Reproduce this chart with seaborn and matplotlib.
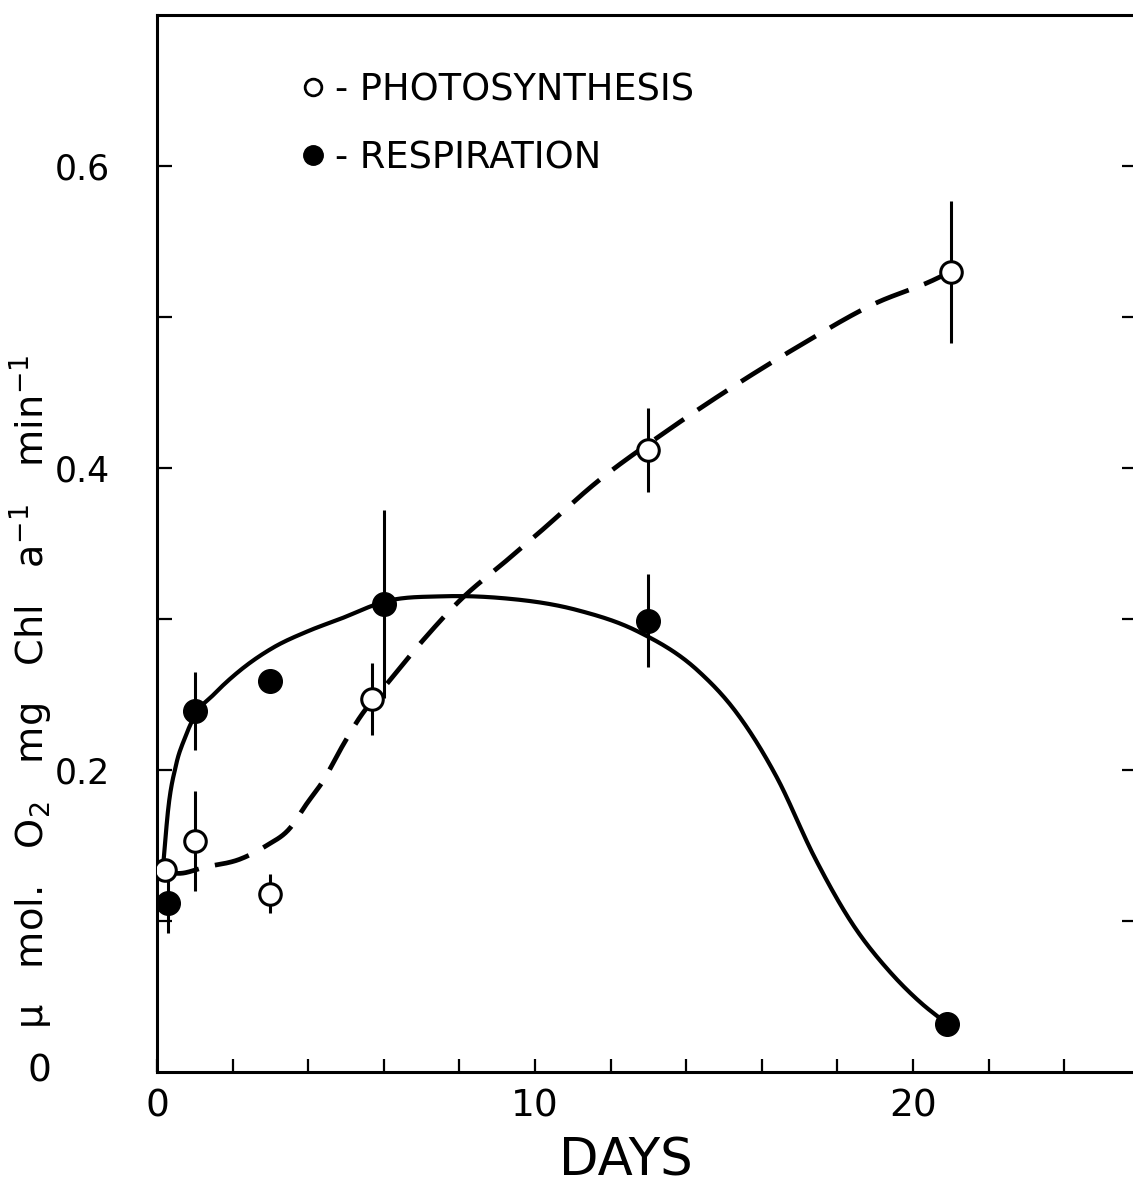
import numpy as np
import matplotlib
matplotlib.use("Agg")
import matplotlib.pyplot as plt
from matplotlib.lines import Line2D
import seaborn as sns

# Measured points (mean and half-range of vertical bars)
photo_day = [0.2, 1.0, 3.0, 5.7, 13.0, 21.0]
photo_val = [0.134, 0.153, 0.118, 0.247, 0.412, 0.530]
photo_err = [0.0, 0.033, 0.013, 0.024, 0.028, 0.047]

resp_day = [0.3, 1.0, 3.0, 6.0, 13.0, 20.9]
resp_val = [0.112, 0.239, 0.259, 0.310, 0.299, 0.032]
resp_err = [0.020, 0.026, 0.0, 0.062, 0.031, 0.005]

# Hand-fitted trend curves (knots)
photo_curve_day = [0.2, 0.42, 1.32, 2.2, 2.9, 3.5, 3.97, 4.4, 4.84, 5.37, 6.08,
                   7.04, 8.0, 9.26, 10.1, 11.7, 13.4, 15.0, 17.0, 19.0, 20.5, 21.0]
photo_curve_val = [0.134, 0.132, 0.136, 0.141, 0.150, 0.161, 0.178, 0.193, 0.213,
                   0.235, 0.257, 0.286, 0.312, 0.339, 0.357, 0.392, 0.423, 0.450,
                   0.481, 0.509, 0.524, 0.530]

resp_curve_day = [0.15, 0.3, 0.5, 0.75, 1.0, 1.5, 2.2, 3.07, 4.0, 4.84, 6.1,
                  7.5, 9.05, 11.1, 12.7, 14.3, 15.3, 16.4, 17.4, 18.4, 19.4,
                  20.2, 20.9]
resp_curve_val = [0.133, 0.175, 0.203, 0.222, 0.236, 0.250, 0.266, 0.281, 0.292,
                  0.300, 0.312, 0.315, 0.314, 0.306, 0.292, 0.266, 0.239, 0.195,
                  0.142, 0.098, 0.066, 0.046, 0.032]

x_ticks = [0, 2, 4, 6, 8, 10, 12, 14, 16, 18, 20, 22, 24]
x_tick_labels = ["0", "", "", "", "", "10", "", "", "", "", "20", "", ""]
y_ticks = [0.1, 0.2, 0.3, 0.4, 0.5, 0.6]
y_tick_labels = ["", "0.2", "", "0.4", "", "0.6"]

legend_labels = ["- PHOTOSYNTHESIS", "- RESPIRATION"]


def hermite_smooth(xk, yk, n=600):
    """Cubic Hermite curve through the knots with three-point tangents."""
    xk = np.asarray(xk, float)
    yk = np.asarray(yk, float)
    h = np.diff(xk)
    d = np.diff(yk) / h
    m = np.empty_like(yk)
    m[0], m[-1] = d[0], d[-1]
    m[1:-1] = (d[:-1] * h[1:] + d[1:] * h[:-1]) / (h[:-1] + h[1:])
    xs = np.linspace(xk[0], xk[-1], n)
    idx = np.clip(np.searchsorted(xk, xs) - 1, 0, len(h) - 1)
    t = (xs - xk[idx]) / h[idx]
    h00 = 2 * t**3 - 3 * t**2 + 1
    h10 = t**3 - 2 * t**2 + t
    h01 = -2 * t**3 + 3 * t**2
    h11 = t**3 - t**2
    ys = (h00 * yk[idx] + h10 * h[idx] * m[idx]
          + h01 * yk[idx + 1] + h11 * h[idx] * m[idx + 1])
    return xs, ys


sns.set_theme(style="ticks")
plt.rcParams["font.family"] = ["DejaVu Sans"]
plt.rcParams["mathtext.fontset"] = "dejavusans"
plt.rcParams["text.color"] = "black"

fig = plt.figure(figsize=(11.33, 11.9), dpi=100)
ax = fig.add_axes([157 / 1133, 1 - 1072 / 1190, 1 - 157 / 1133, (1072 - 15) / 1190])

px, py = hermite_smooth(photo_curve_day, photo_curve_val)
rx, ry = hermite_smooth(resp_curve_day, resp_curve_val)

sns.lineplot(x=px, y=py, ax=ax, color="black", lw=3.4, sort=False,
             estimator=None, zorder=2)
ax.lines[-1].set_dashes((7.5, 3.5))
sns.lineplot(x=rx, y=ry, ax=ax, color="black", lw=3.0, sort=False,
             estimator=None, zorder=2)

# vertical range bars
pd_, pv_, pe_ = map(np.asarray, (photo_day, photo_val, photo_err))
rd_, rv_, re_ = map(np.asarray, (resp_day, resp_val, resp_err))
mp = pe_ > 0
mr = re_ > 0
ax.vlines(pd_[mp], (pv_ - pe_)[mp], (pv_ + pe_)[mp], color="black", lw=2.2, zorder=1)
ax.vlines(rd_[mr], (rv_ - re_)[mr], (rv_ + re_)[mr], color="black", lw=2.2, zorder=1)

ax.plot(resp_day, resp_val, "o", ms=17, mfc="black", mec="black", zorder=4)
ax.plot(photo_day, photo_val, "o", ms=15.5, mfc="white", mec="black", mew=2.2, zorder=5)

ax.set_xlim(0, (1133 - 157) / 37.8)
ax.set_ylim(0, 0.7)

ax.set_xticks(x_ticks)
ax.set_xticklabels(x_tick_labels)
ax.set_yticks(y_ticks)
ax.set_yticklabels(y_tick_labels)

for s in ["left", "bottom", "top"]:
    ax.spines[s].set_linewidth(2.2)
    ax.spines[s].set_color("black")
ax.spines["right"].set_visible(False)

ax.tick_params(axis="x", direction="in", length=9.5, width=1.6, pad=12,
               labelsize=27, colors="black")
ax.tick_params(axis="y", direction="in", length=11, width=1.6, pad=34,
               labelsize=25, colors="black", right=True)
for t in ax.yaxis.get_major_ticks():
    t.tick2line.set_markersize(8)

ax.text(-0.12, 0.0, "0", transform=ax.transAxes, fontsize=27,
        ha="center", va="center", color="black")

ax.set_xlabel("DAYS", fontsize=37, color="black")
ax.xaxis.label.set_va("center")
ax.xaxis.set_label_coords(0.48, -0.085)

ax.set_ylabel("μ   mol.   O$_2$   mg   Chl   a$^{-1}$   min$^{-1}$",
              fontsize=27.5, color="black")
ax.yaxis.label.set_va("center")
ax.yaxis.set_label_coords(-0.129, 0.36)

handles = [
    Line2D([], [], ls="none", marker="o", ms=12, mfc="white", mec="black", mew=2.0),
    Line2D([], [], ls="none", marker="o", ms=14, mfc="black", mec="black"),
]
ax.legend(handles, legend_labels, loc="upper left",
          bbox_to_anchor=(0.145, 0.947), frameon=False, fontsize=26.5,
          handlelength=0.8, handletextpad=0.2, labelspacing=0.85,
          borderpad=0, borderaxespad=0)

fig.savefig("out.png", dpi=100, facecolor="white")
